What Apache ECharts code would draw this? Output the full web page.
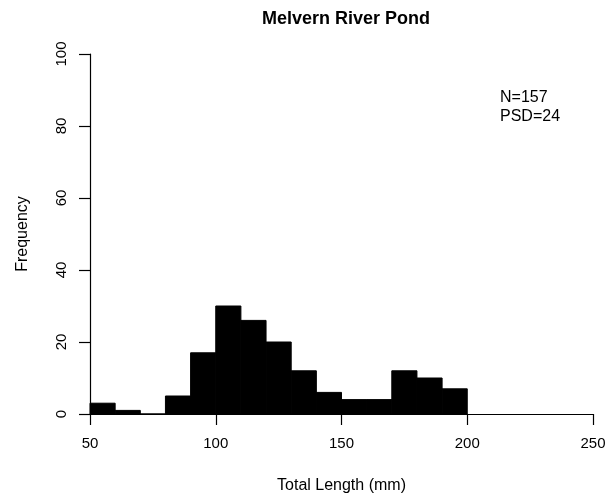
<!DOCTYPE html>
<html>
<head>
<meta charset="utf-8">
<script src="https://cdn.jsdelivr.net/npm/echarts@6/dist/echarts.min.js"></script>
<style>
  html, body { margin: 0; padding: 0; background: #fff; }
  #chart { width: 615px; height: 499px; }
</style>
</head>
<body>
<div id="chart"></div>
<script>
// Histogram of total length, 10 mm bins
const binStarts = [50, 60, 70, 80, 90, 100, 110, 120, 130, 140, 150, 160, 170, 180, 190];
const binWidth = 10;
const counts = [3, 1, 0, 5, 17, 30, 26, 20, 12, 6, 4, 4, 12, 10, 7];
const xTicks = [50, 100, 150, 200, 250];
const yTicks = [0, 20, 40, 60, 80, 100];
const chartTitle = 'Melvern River Pond';
const statLines = ['N=157', 'PSD=24'];

const font = '"Liberation Sans", Arial, sans-serif';
const chart = echarts.init(document.getElementById('chart'), null, { renderer: 'canvas' });

const barData = binStarts.map((s, i) => [s, s + binWidth, counts[i]]);

chart.setOption({
  animation: false,
  backgroundColor: '#ffffff',
  title: {
    text: chartTitle,
    left: 341,
    textAlign: 'center',
    top: 5,
    textStyle: { fontFamily: font, fontSize: 18, fontWeight: 'bold', color: '#000' }
  },
  grid: { left: 90, right: 22, top: 54, bottom: 85, containLabel: false },
  xAxis: {
    type: 'value',
    min: xTicks[0],
    max: xTicks[xTicks.length - 1],
    interval: 50,
    name: 'Total Length (mm)',
    nameLocation: 'middle',
    nameGap: 64,
    nameTextStyle: { fontFamily: font, fontSize: 16, color: '#000' },
    axisLine: { show: true, onZero: false, lineStyle: { color: '#000', width: 1.2 } },
    axisTick: { show: true, length: 11, lineStyle: { color: '#000', width: 1.2 } },
    axisLabel: { fontFamily: font, fontSize: 15, color: '#000', margin: 22,
      formatter: v => xTicks.includes(v) ? String(v) : '' },
    splitLine: { show: false }
  },
  yAxis: {
    type: 'value',
    min: yTicks[0],
    max: yTicks[yTicks.length - 1],
    interval: 20,
    name: 'Frequency',
    nameLocation: 'middle',
    nameGap: 59,
    nameRotate: 90,
    nameTextStyle: { fontFamily: font, fontSize: 16, color: '#000' },
    axisLine: { show: true, lineStyle: { color: '#000', width: 1.2 } },
    axisTick: { show: true, length: 11, lineStyle: { color: '#000', width: 1.2 } },
    axisLabel: { fontFamily: font, fontSize: 15, color: '#000', rotate: 90, margin: 28,
      verticalAlign: 'middle', align: 'center',
      formatter: v => yTicks.includes(v) ? String(v) : '' },
    splitLine: { show: false }
  },
  graphic: [{
    type: 'text',
    left: 500,
    top: 88,
    style: {
      text: statLines.join('\n'),
      font: '16px ' + font,
      fill: '#000',
      lineHeight: 19
    }
  }],
  series: [{
    type: 'custom',
    data: barData,
    encode: { x: [0, 1], y: 2 },
    renderItem: function (params, api) {
      const p0 = api.coord([api.value(0), 0]);
      const p1 = api.coord([api.value(1), api.value(2)]);
      return {
        type: 'rect',
        shape: { x: p0[0], y: p1[1], width: p1[0] - p0[0], height: p0[1] - p1[1] },
        style: { fill: '#000', stroke: '#000', lineWidth: 1 }
      };
    }
  }]
});
</script>
</body>
</html>
